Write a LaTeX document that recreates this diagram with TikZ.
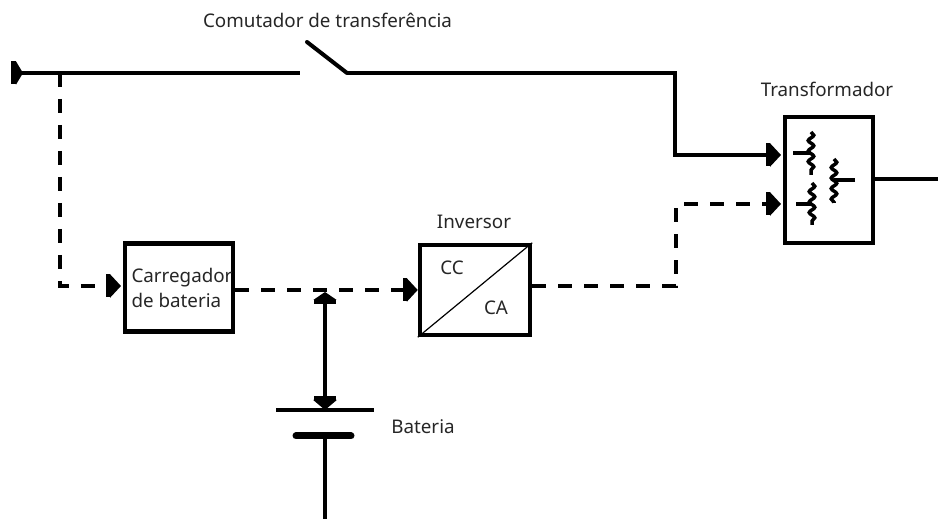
\documentclass[tikz,border=0pt]{standalone}
\usepackage{fontspec}
\setmainfont{Noto Sans}
\usetikzlibrary{arrows.meta,decorations.pathmorphing}

\tikzset{
  bloco/.style={draw,line width=0.09cm,minimum width=#1,inner sep=0pt},
  rotulo/.style={inner sep=0pt,text=black!85,font=\fontsize{10.7pt}{14pt}\selectfont,align=left},
  linha/.style={line width=0.08cm},
  tracejada/.style={line width=0.08cm,dash pattern=on 0.28cm off 0.24cm},
  seta/.style={-{Rectangle[length=0.08cm,width=0.46cm]Triangle[length=0.22cm,width=0.46cm]}},
  bobina/.style={line width=0.07cm,decorate,decoration={snake,amplitude=0.055cm,segment length=0.21cm}},
  tomada/.style={line width=0.07cm}
}

\begin{document}
\begin{tikzpicture}[x=0.02cm,y=-0.02cm]
\useasboundingbox (0,0) rectangle (938,519);
% blocos
\node[bloco=2.16cm,minimum height=1.76cm] (carregador) at (179,287.5) {};
\node[bloco=2.2cm,minimum height=1.8cm] (inversor) at (475,290) {};
\node[bloco=1.76cm,minimum height=2.52cm] (transformador) at (829,180) {};
% textos
\node[rotulo] (tcomutador) at (327.5,20) {Comutador de transferência};
\node[rotulo] (ttransformador) at (827,89) {Transformador};
\node[rotulo] (tinversor) at (474,222) {Inversor};
\node[rotulo] (tcarregador) at (182,288) {Carregador\\de bateria};
\node[rotulo] (tcc) at (452,268) {CC};
\node[rotulo] (tca) at (496,308) {CA};
\node[rotulo] (tbateria) at (423,427) {Bateria};
% pontos livres
\coordinate (entrada) at (11,73);
\coordinate (derivacao) at (60,73);
\coordinate (chave1) at (300,73);
\coordinate (chave2) at (347,73);
\coordinate (alavanca) at (307,42);
\coordinate (dobra1) at (675,73);
\coordinate (dobra2) at (675,155);
\coordinate (in1) at (781,155);
\coordinate (dobra3) at (60,286);
\coordinate (incarregador) at (121,286);
\coordinate (dobra4) at (676,286);
\coordinate (dobra5) at (676,204);
\coordinate (in2) at (781,204);
\coordinate (saida) at (938,179);
\coordinate (juncao) at (325,292);
\coordinate (placa1a) at (276,410);
\coordinate (placa1b) at (374,410);
\coordinate (placa1c) at (325,410);
\coordinate (placa2a) at (296,436);
\coordinate (placa2b) at (351,436);
\coordinate (placa2c) at (325,436);
\coordinate (terra) at (325,519);
% linha principal
\draw[linha,{Rectangle[length=0.1cm,width=0.46cm]Triangle[reversed,length=0.14cm,width=0.46cm]}-] (entrada) -- (chave1);
\draw[linha,line cap=round] (alavanca) -- (chave2);
\draw[linha,seta] (chave2) -- (dobra1) -- (dobra2) -- (in1);
% caminho pelo inversor
\draw[tracejada,seta] (derivacao) -- (dobra3) -- (incarregador);
\draw[tracejada,seta] (carregador.east |- inversor.west) -- (inversor.west);
\draw[tracejada,seta] (inversor.east |- dobra4) -- (dobra4) -- (dobra5) -- (in2);
% bateria
\draw[linha,{Triangle[length=0.16cm,width=0.46cm]Rectangle[length=0.08cm,width=0.46cm]}-{Rectangle[length=0.08cm,width=0.46cm]Triangle[length=0.2cm,width=0.46cm]}] (juncao) -- (placa1c);
\draw[linha] (placa1a) -- (placa1b);
\draw[line width=0.14cm,line cap=round] (placa2a) -- (placa2b);
\draw[linha] (placa2c) -- (terra);
% saida e diagonal
\draw[linha] (transformador.east |- saida) -- (saida);
\draw[line width=0.024cm] (inversor.south west) -- (inversor.north east);
% enrolamentos
\coordinate (b1a) at (811,132);
\coordinate (b1b) at (811,175);
\coordinate (b1t) at (793,153);
\coordinate (b2a) at (812,183);
\coordinate (b2b) at (812,225);
\coordinate (b2t) at (796,204);
\coordinate (b3a) at (834,159);
\coordinate (b3b) at (834,203);
\coordinate (b3t) at (855,180);
\draw[bobina] (b1a) -- (b1b);
\draw[bobina] (b2a) -- (b2b);
\draw[bobina] (b3a) -- (b3b);
\draw[tomada] (b1t) -- (b1a |- b1t);
\draw[tomada] (b2t) -- (b2a |- b2t);
\draw[tomada] (b3t) -- (b3a |- b3t);
\end{tikzpicture}
\end{document}
